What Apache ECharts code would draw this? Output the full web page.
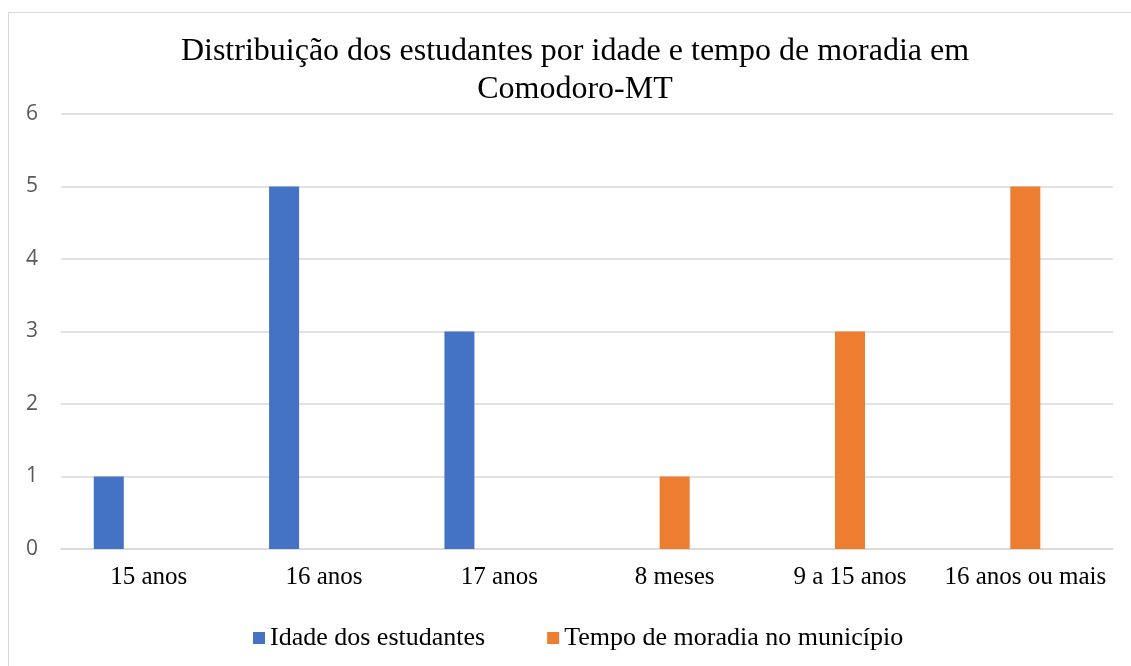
<!DOCTYPE html>
<html>
<head>
<meta charset="utf-8">
<script src="https://cdn.jsdelivr.net/npm/echarts@6/dist/echarts.min.js"></script>
<style>
  html, body { margin: 0; padding: 0; background: #fff; }
  #chart { width: 1131px; height: 666px; }
</style>
</head>
<body>
<div id="chart"></div>
<script>
var categorias = ['15 anos', '16 anos', '17 anos', '8 meses', '9 a 15 anos', '16 anos ou mais']
var idade = [1, 5, 3, null, null, null]
var moradia = [null, null, null, 1, 3, 5]
var vazio = [null, null, null, null, null, null] // serie vazia do Excel (3a posicao)
var yTicks = [0, 1, 2, 3, 4, 5, 6]

var myChart = echarts.init(document.getElementById('chart'))

var serif = '"Liberation Serif", "DejaVu Serif", serif'
var sans = '"Open Sans", "Liberation Sans", sans-serif'

var option = {
  animation: false,
  color: ['#4472c4', '#ed7d31', '#a5a5a5'],
  graphic: [{
    type: 'rect',
    shape: { x: 8.5, y: 12.5, width: 1200, height: 700 },
    style: { fill: 'none', stroke: '#d9d9d9', lineWidth: 1 },
    silent: true
  }],
  title: {
    text: 'Distribuição dos estudantes por idade e tempo de moradia em\nComodoro-MT',
    left: 570,
    top: 28,
    textAlign: 'center',
    textStyle: {
      fontFamily: serif,
      fontWeight: 'normal',
      fontSize: 32,
      lineHeight: 38,
      color: '#000'
    }
  },
  legend: {
    data: ['Idade dos estudantes', 'Tempo de moradia no município'],
    top: 620,
    left: 248,
    itemWidth: 12,
    itemHeight: 12,
    itemGap: 62,
    icon: 'rect',
    textStyle: {
      fontFamily: serif,
      fontSize: 26,
      color: '#000'
    }
  },
  grid: {
    left: 61,
    right: 18,
    top: 114,
    bottom: 117
  },
  xAxis: {
    type: 'category',
    data: categorias,
    axisTick: { show: false },
    axisLine: { lineStyle: { color: '#d9d9d9', width: 1.5 } },
    axisLabel: {
      interval: 0,
      fontFamily: serif,
      fontSize: 25,
      color: '#000',
      margin: 16
    }
  },
  yAxis: {
    type: 'value',
    min: yTicks[0],
    max: yTicks[yTicks.length - 1],
    interval: 1,
    axisLine: { show: false },
    axisTick: { show: false },
    splitLine: { lineStyle: { color: '#d9d9d9', width: 1.5 } },
    axisLabel: {
      fontFamily: sans,
      fontSize: 21,
      color: '#595959',
      margin: 23
    }
  },
  series: [{
    name: 'Idade dos estudantes',
    type: 'bar',
    data: idade,
    barWidth: 30,
    barGap: '33%'
  }, {
    name: 'Tempo de moradia no município',
    type: 'bar',
    data: moradia,
    barWidth: 30,
    barGap: '33%'
  }, {
    name: 'vazio',
    type: 'bar',
    data: vazio,
    barWidth: 30,
    barGap: '33%'
  }]
}

myChart.setOption(option)
</script>
</body>
</html>
